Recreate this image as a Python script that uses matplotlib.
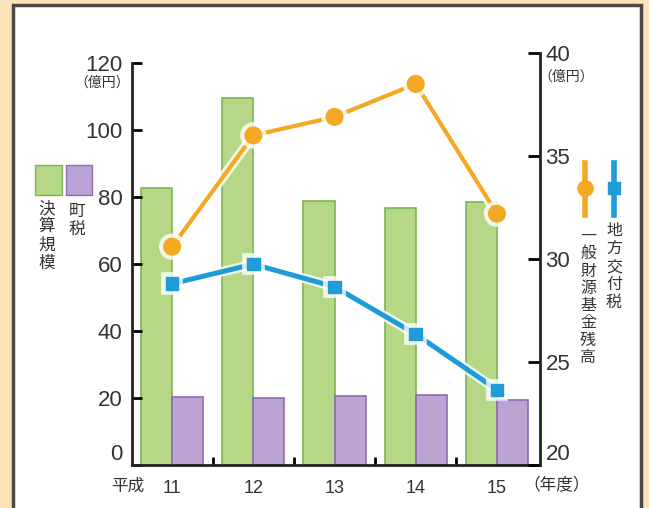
import matplotlib.pyplot as plt
import matplotlib.patheffects as pe
from matplotlib.patches import Rectangle
from matplotlib.lines import Line2D
from matplotlib.transforms import ScaledTranslation

# fiscal years (Heisei)
years = ['11', '12', '13', '14', '15']
budget = [82.7, 109.6, 78.8, 76.7, 78.5]      # 決算規模 (億円)
town_tax = [20.3, 20.0, 20.6, 20.9, 19.4]     # 町税 (億円)
fund_balance = [30.6, 36.0, 36.9, 38.5, 32.2]  # 一般財源基金残高 (億円)
grant_tax = [28.8, 29.75, 28.65, 26.35, 23.65]  # 地方交付税 (億円)

JP = ['Noto Sans CJK JP', 'DejaVu Sans']
NUM = ['Liberation Sans Narrow', 'Liberation Sans', 'DejaVu Sans']
TXT = '#333333'

GREEN, GREEN_E = '#b6d886', '#7cb452'
PURPLE, PURPLE_E = '#bba3d3', '#8d6cb4'
ORANGE = '#f5a823'
BLUE = '#1f9bd8'

W, H = 649, 508
fig = plt.figure(figsize=(W / 100, H / 100), dpi=100)
fig.patch.set_facecolor('#fde4b8')

# white panel with dark frame
fig.add_artist(Rectangle((13 / W, -0.05), 628 / W, 1.05 - 5 / H,
                         transform=fig.transFigure, facecolor='white',
                         edgecolor='#4a4a4a', linewidth=2.5, zorder=0))

def fx(px):
    return px / W

def fy(py):
    return 1 - py / H

left, right = fx(132), fx(540)
bottom = fy(465)
ax1 = fig.add_axes([left, bottom, right - left, fy(63) - bottom])
ax2 = fig.add_axes([left, bottom, right - left, fy(53) - bottom])
ax1.set_facecolor('none')
ax2.set_facecolor('none')
ax2.set_zorder(ax1.get_zorder() + 1)

x = list(range(len(years)))
bw = 0.383
ax1.bar([i - bw for i in x], budget, width=bw, align='edge',
        color=GREEN, edgecolor=GREEN_E, linewidth=1.2)
ax1.bar(x, town_tax, width=bw, align='edge',
        color=PURPLE, edgecolor=PURPLE_E, linewidth=1.2)

xlim = (-0.494, 4.53)
ax1.set_xlim(*xlim)
ax2.set_xlim(*xlim)
ax1.set_ylim(0, 120)
ax2.set_ylim(20, 40)

glow = [pe.Stroke(linewidth=7, foreground='white', alpha=0.8), pe.Normal()]
ax2.plot(x, grant_tax, color=BLUE, linewidth=3.6, marker='s', markersize=9,
         markeredgecolor=BLUE, path_effects=glow, zorder=3)
ax2.plot(x, fund_balance, color=ORANGE, linewidth=3, marker='o', markersize=12,
         markeredgecolor=ORANGE, path_effects=glow, zorder=4)

# spines
for s in ['top', 'right']:
    ax1.spines[s].set_visible(False)
for s in ['top', 'left', 'bottom']:
    ax2.spines[s].set_visible(False)
for sp in [ax1.spines['left'], ax1.spines['bottom'], ax2.spines['right']]:
    sp.set_linewidth(2)
    sp.set_color('#222222')

ax1.set_yticks(range(0, 121, 20))
ax1.tick_params(axis='y', direction='in', length=7, width=2, pad=7,
                labelsize=16, labelcolor=TXT)
for lab in ax1.get_yticklabels():
    lab.set_fontfamily(NUM)
ax2.set_yticks(range(20, 41, 5))
ax2.yaxis.tick_right()
ax2.tick_params(axis='y', direction='in', length=9, width=2, pad=4,
                labelsize=16, labelcolor=TXT)
for lab in ax2.get_yticklabels():
    lab.set_fontfamily(NUM)
ax2.set_xticks([])

# lift the bottom labels off the baseline
lift = ScaledTranslation(0, 9 / 72, fig.dpi_scale_trans)
for ax in (ax1, ax2):
    fig.canvas.draw()
    lab = ax.get_yticklabels()[0]
    lab.set_transform(lab.get_transform() + lift)

# category boundaries as inward ticks, year labels centred under bars
ax1.set_xticks([i + 0.5 for i in x[:-1]])
ax1.set_xticklabels([])
ax1.tick_params(axis='x', which='major', direction='in', length=6, width=2)
ax1.set_xticks(x, minor=True)
ax1.set_xticklabels(years, minor=True, fontfamily=NUM, fontsize=13, color=TXT)
ax1.tick_params(axis='x', which='minor', length=0, pad=11)

fig.text(fx(128), fy(486), '平成', family=JP, fontsize=12, color=TXT,
         ha='center', va='center')
fig.text(fx(557), fy(486), '（年度）', family=JP, fontsize=12, color=TXT,
         ha='center', va='center')
fig.text(fx(102), fy(83), '（億円）', family=JP, fontsize=10, color=TXT,
         ha='center', va='center')
fig.text(fx(566), fy(77), '（億円）', family=JP, fontsize=10, color=TXT,
         ha='center', va='center')

# left legend: bar swatches with vertical captions
fig.add_artist(Rectangle((fx(35), fy(195)), 27 / W, 30 / H, transform=fig.transFigure,
                         facecolor=GREEN, edgecolor=GREEN_E, linewidth=1))
fig.add_artist(Rectangle((fx(66), fy(195)), 26 / W, 30 / H, transform=fig.transFigure,
                         facecolor=PURPLE, edgecolor=PURPLE_E, linewidth=1))
fig.text(fx(47), fy(200), '\n'.join('決算規模'), family=JP, fontsize=12,
         color=TXT, ha='center', va='top', linespacing=1.1)
fig.text(fx(77), fy(203), '\n'.join('町税'), family=JP, fontsize=12,
         color=TXT, ha='center', va='top', linespacing=1.1)

# right legend: line glyphs with vertical captions
for px, col, mk, ms in [(585, ORANGE, 'o', 11), (614, BLUE, 's', 9)]:
    fig.add_artist(Line2D([fx(px), fx(px)], [fy(163), fy(215)], transform=fig.transFigure,
                          color=col, linewidth=4))
    fig.add_artist(Line2D([fx(px)], [fy(188)], transform=fig.transFigure,
                          color=col, marker=mk, markersize=ms))
fig.text(fx(588), fy(228), '\n'.join('一般財源基金残高'), family=JP, fontsize=11.5,
         color=TXT, ha='center', va='top', linespacing=1.02)
fig.text(fx(614), fy(222), '\n'.join('地方交付税'), family=JP, fontsize=11.5,
         color=TXT, ha='center', va='top', linespacing=1.08)

fig.savefig('out.png', dpi=100)
